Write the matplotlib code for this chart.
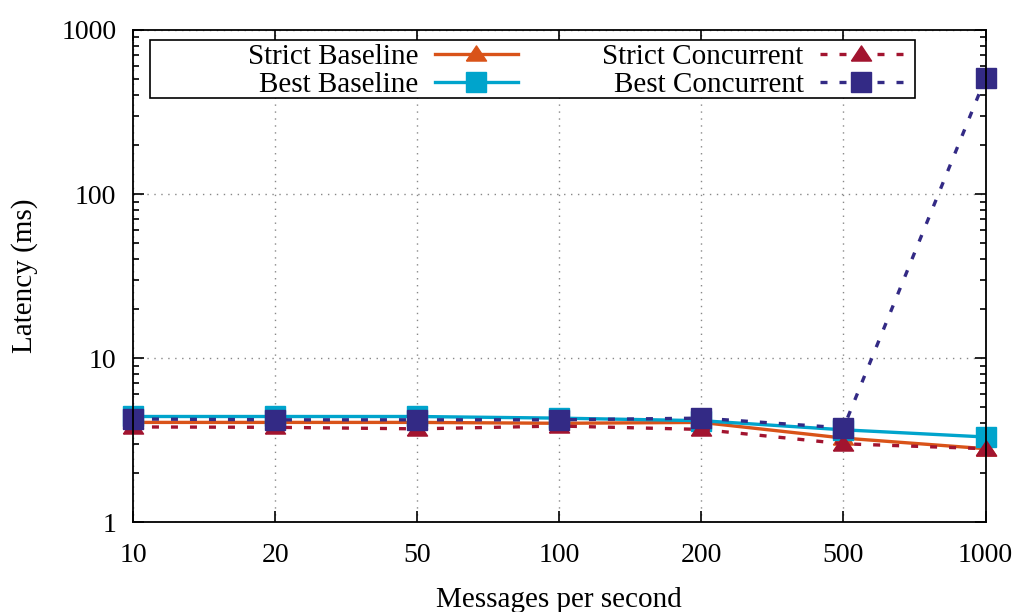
import numpy as np
import matplotlib.pyplot as plt
from matplotlib.patches import Rectangle
from matplotlib.ticker import FixedLocator, LogLocator, NullFormatter

plt.rcParams['font.family'] = ['Liberation Serif', 'DejaVu Serif']

# message rates (evenly spaced categories on the x axis)
rates = ['10', '20', '50', '100', '200', '500', '1000']

# latency in ms
strict_baseline = [4.05, 4.05, 4.05, 4.0, 4.05, 3.25, 2.8]
best_baseline = [4.4, 4.4, 4.4, 4.3, 4.15, 3.65, 3.3]
strict_concurrent = [3.8, 3.78, 3.7, 3.85, 3.67, 3.0, 2.8]
best_concurrent = [4.25, 4.2, 4.2, 4.2, 4.3, 3.75, 510]

xpos = np.arange(len(rates))

# flattened triangle marker
tri = [(-1, -0.65), (1, -0.65), (0, 0.85), (-1, -0.65)]

fig = plt.figure(figsize=(10.15, 6.12), dpi=100)
ax = fig.add_axes([0.131, 0.147, 0.84, 0.804])

common = dict(lw=2.4, clip_on=False)
ax.plot(xpos, strict_baseline, color='#d95319', marker=tri, ms=14.5,
        label='Strict Baseline', **common)
ax.plot(xpos, best_baseline, color='#00a4cc', marker='s', ms=14,
        label='Best Baseline', **common)
ax.plot(xpos, strict_concurrent, color='#a2142f', marker=tri, ms=14.5,
        dashes=(2.1, 3.6), label='Strict Concurrent', **common)
ax.plot(xpos, best_concurrent, color='#332a85', marker='s', ms=14,
        dashes=(2.1, 3.6), label='Best Concurrent', **common)

ax.set_yscale('log')
ax.set_ylim(1, 1000)
ax.set_xlim(0, len(rates) - 1)
ax.set_xticks(xpos)
ax.set_xticklabels(rates)
ax.yaxis.set_major_locator(FixedLocator([1, 10, 100, 1000]))
ax.set_yticklabels(['1', '10', '100', '1000'])
ax.yaxis.set_minor_locator(LogLocator(base=10, subs=np.arange(2, 10)))
ax.yaxis.set_minor_formatter(NullFormatter())

ax.tick_params(which='both', direction='in', top=True, right=True,
               labelsize=20, width=1.2)
ax.tick_params(which='major', length=8)
ax.tick_params(axis='x', which='major', pad=15)
ax.tick_params(axis='y', which='major', pad=12)
ax.tick_params(which='minor', length=4)
for s in ax.spines.values():
    s.set_linewidth(1.3)

ax.grid(True, which='major', color='#888888', linestyle=(0, (1, 4)), lw=1)

ax.set_xlabel('Messages per second', fontsize=21, labelpad=14)
ax.set_ylabel('Latency (ms)', fontsize=21, labelpad=17)

# key: right-justified labels, frame spanning most of the axes width
leg = ax.legend(loc='upper right', bbox_to_anchor=(0.903, 0.972),
                ncol=2, markerfirst=False, fontsize=21,
                handlelength=2.85, handletextpad=0.55, labelspacing=0.05,
                borderpad=0.0, columnspacing=2.9, frameon=False,
                borderaxespad=0)
ax.add_patch(Rectangle((0.02, 0.862), 0.897, 0.118, transform=ax.transAxes,
                       facecolor='white', edgecolor='black', lw=1.2,
                       zorder=4.9))
leg.set_zorder(5)

fig.savefig('out.png', dpi=100)
